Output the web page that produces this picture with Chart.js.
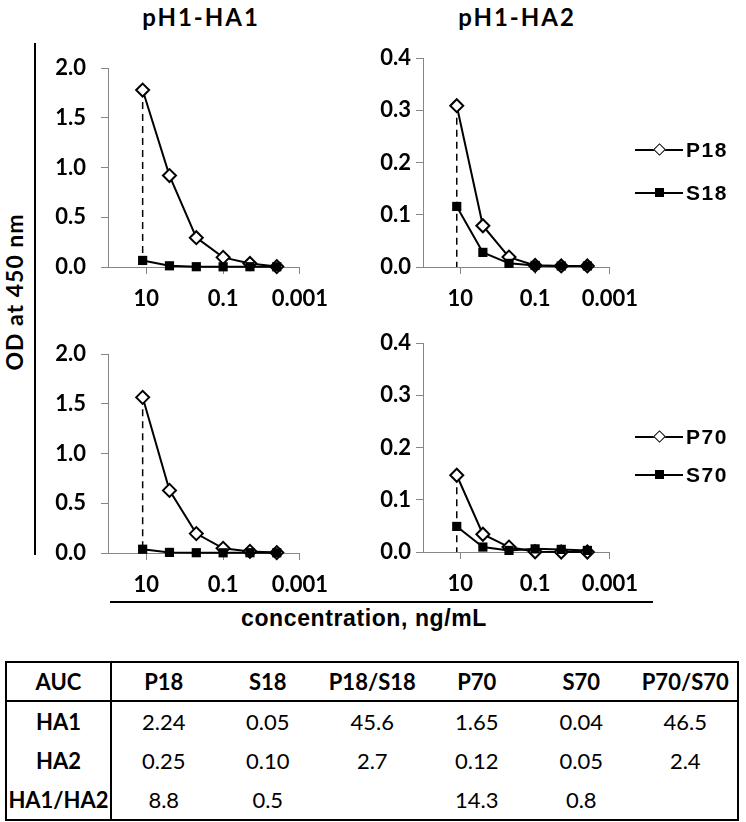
<!DOCTYPE html>
<html>
<head>
<meta charset="utf-8">
<script src="https://cdn.jsdelivr.net/npm/chart.js@4.4.1/dist/chart.umd.min.js"></script>
<style>
body { margin: 0; width: 746px; height: 822px; position: relative; background: #fff; overflow: hidden; font-family: Lato, sans-serif; color: #000; }
.abs { position: absolute; }
.title { font-weight: bold; font-size: 24px; letter-spacing: 2px; transform: translate(-50%, -50%); white-space: nowrap; }
.ytitle { font-weight: bold; font-size: 23px; letter-spacing: 1px; white-space: nowrap; transform: translate(-50%, -50%) rotate(-90deg); }
.xtitle { font-family: "Liberation Sans", Arial, sans-serif; font-weight: bold; font-size: 23px; letter-spacing: 0.6px; transform: translate(-50%, -50%); white-space: nowrap; }
.leg { font-family: "Liberation Sans", Arial, sans-serif; font-weight: bold; font-size: 21px; letter-spacing: 1.5px; height: 24px; line-height: 24px; }
.leg .ln { position: absolute; left: 0; top: 11px; width: 48px; height: 2px; background: #000; }
.leg .mk { position: absolute; left: 20px; top: 7px; width: 9px; height: 9px; box-sizing: border-box; }
.leg .mk.dia { background: #fff; border: 1.5px solid #000; transform: rotate(45deg); }
.leg .mk.sq { background: #000; }
.leg .tx { position: absolute; left: 51px; top: 0; }
table { position: absolute; left: 5px; top: 661px; width: 734px; table-layout: fixed; border-collapse: collapse; border: 2px solid #000; font-size: 22px; }
td, th { text-align: center; height: 39px; padding: 0; }
th { height: 37px; border-bottom: 2px solid #000; font-weight: bold; }
td.rh { font-weight: bold; }
.c0 { border-right: 2px solid #000; }
</style>
</head>
<body>

<div class="abs title" style="left:201px; top:16px;">pH1-HA1</div>
<div class="abs title" style="left:517px; top:16px;">pH1-HA2</div>
<div class="abs ytitle" style="left:14px; top:292px;">OD at 450 nm</div>
<div class="abs" style="left:34px; top:43px; width:2px; height:512px; background:#000;"></div>
<div class="abs" style="left:110px; top:601px; width:543px; height:2px; background:#000;"></div>
<div class="abs xtitle" style="left:364px; top:618px;">concentration, ng/mL</div>

<canvas id="c1" class="abs" style="left:40px; top:40px;" width="300" height="290"></canvas>
<canvas id="c2" class="abs" style="left:355px; top:40px;" width="295" height="290"></canvas>
<canvas id="c3" class="abs" style="left:40px; top:326px;" width="300" height="290"></canvas>
<canvas id="c4" class="abs" style="left:355px; top:325px;" width="295" height="290"></canvas>

<div id="leg1" class="abs" style="left:635px; top:138px;"></div>
<div id="leg2" class="abs" style="left:635px; top:425px;"></div>

<table id="auc"></table>

<script>
// concentration series (ng/mL), 5-fold dilution
const concentrations = [12.5, 2.5, 0.5, 0.1, 0.02, 0.004];
const xTickValues = [10, 0.1, 0.001];

// OD at 450 nm
const p18HA1 = [1.78, 0.92, 0.295, 0.097, 0.035, 0.004];
const s18HA1 = [0.066, 0.012, 0.003, 0.002, 0.003, 0.002];
const p18HA2 = [0.309, 0.079, 0.019, 0.003, 0.002, 0.002];
const s18HA2 = [0.116, 0.028, 0.007, 0.003, 0.002, 0.002];
const p70HA1 = [1.566, 0.63, 0.195, 0.047, 0.016, 0.004];
const s70HA1 = [0.038, 0.006, 0.003, 0.002, 0.003, 0.002];
const p70HA2 = [0.147, 0.034, 0.0095, 0.0005, 0.0, 0.0];
const s70HA2 = [0.049, 0.0095, 0.003, 0.006, 0.005, 0.003];

// AUC table
const aucColumns = ['AUC', 'P18', 'S18', 'P18/S18', 'P70', 'S70', 'P70/S70'];
const aucRowNames = ['HA1', 'HA2', 'HA1/HA2'];
const aucHA1 = ['2.24', '0.05', '45.6', '1.65', '0.04', '46.5'];
const aucHA2 = ['0.25', '0.10', '2.7', '0.12', '0.05', '2.4'];
const aucRatio = ['8.8', '0.5', '', '14.3', '0.8', ''];

const AXIS_COLOR = '#868686';
const TICK_FONT = { family: 'Lato', weight: 'bold', size: 22 };

function toPoints(values) {
    return values.map((v, i) => ({ x: concentrations[i], y: v }));
}

function makePanel(id, pVals, sVals, yMax, yStep, yPad, padRight) {
    const ctx = document.getElementById(id);
    return new Chart(ctx, {
        type: 'line',
        data: {
            datasets: [
                {
                    // S series on top
                    data: toPoints(sVals),
                    borderColor: '#000',
                    borderWidth: 2,
                    pointStyle: 'rect',
                    pointRadius: 6.5,
                    pointBackgroundColor: '#000',
                    pointBorderColor: '#000',
                    pointBorderWidth: 0,
                    clip: false,
                    order: 0
                },
                {
                    data: toPoints(pVals),
                    borderColor: '#000',
                    borderWidth: 2,
                    pointStyle: 'rectRot',
                    pointRadius: 6.5,
                    pointBackgroundColor: '#fff',
                    pointBorderColor: '#000',
                    pointBorderWidth: 2,
                    clip: false,
                    order: 1
                },
                {
                    // drop line from first point to the axis
                    data: [{ x: concentrations[0], y: pVals[0] }, { x: concentrations[0], y: 0 }],
                    borderColor: '#000',
                    borderWidth: 1.5,
                    borderDash: [7, 5],
                    pointRadius: 0,
                    clip: false,
                    order: 2
                }
            ]
        },
        options: {
            responsive: false,
            animation: false,
            devicePixelRatio: 1,
            layout: { padding: { top: 15, right: padRight, left: 0, bottom: 0 } },
            plugins: { legend: { display: false }, tooltip: { enabled: false } },
            scales: {
                x: {
                    type: 'logarithmic',
                    min: 0.001,
                    max: 100,
                    reverse: true,
                    afterBuildTicks: (scale) => {
                        scale.ticks = xTickValues.map(v => ({ value: v }));
                    },
                    afterFit: (scale) => { scale.height = 290 - 15 - 212; },
                    ticks: {
                        autoSkip: false,
                        maxRotation: 0,
                        padding: 12,
                        color: '#000',
                        font: TICK_FONT,
                        callback: (v) => String(v)
                    },
                    grid: { drawOnChartArea: false, drawTicks: true, tickLength: 7, color: AXIS_COLOR },
                    border: { color: AXIS_COLOR, width: 1 }
                },
                y: {
                    min: 0,
                    max: yMax,
                    afterFit: (scale) => { scale.width = 68; },
                    ticks: {
                        stepSize: yStep,
                        padding: yPad,
                        color: '#000',
                        font: TICK_FONT,
                        callback: (v) => v.toFixed(1)
                    },
                    grid: { drawOnChartArea: false, drawTicks: true, tickLength: 7, color: AXIS_COLOR },
                    border: { color: AXIS_COLOR, width: 1 }
                }
            }
        }
    });
}

makePanel('c1', p18HA1, s18HA1, 2.0, 0.5, 15, 12);
makePanel('c2', p18HA2, s18HA2, 0.4, 0.1, 5, 8);
makePanel('c3', p70HA1, s70HA1, 2.0, 0.5, 15, 12);
makePanel('c4', p70HA2, s70HA2, 0.4, 0.1, 5, 8);

function buildLegend(id, names, gap) {
    const el = document.getElementById(id);
    names.forEach((name, i) => {
        const row = document.createElement('div');
        row.className = 'leg abs';
        row.style.left = '0px';
        row.style.top = (i * gap) + 'px';
        row.innerHTML = '<div class="ln"></div><div class="mk ' + (i === 0 ? 'dia' : 'sq') + '"></div><div class="tx">' + name + '</div>';
        el.appendChild(row);
    });
}
buildLegend('leg1', ['P18', 'S18'], 43);
buildLegend('leg2', ['P70', 'S70'], 38);

const table = document.getElementById('auc');
let html = '<colgroup><col style="width:105px">' + aucColumns.slice(1).map(() => '<col>').join('') + '</colgroup>';
html += '<tr>' + aucColumns.map((c, i) => '<th' + (i === 0 ? ' class="c0"' : '') + '>' + c + '</th>').join('') + '</tr>';
[aucHA1, aucHA2, aucRatio].forEach((row, r) => {
    html += '<tr><td class="rh c0">' + aucRowNames[r] + '</td>' + row.map(v => '<td>' + v + '</td>').join('') + '</tr>';
});
table.innerHTML = html;
</script>
</body>
</html>
